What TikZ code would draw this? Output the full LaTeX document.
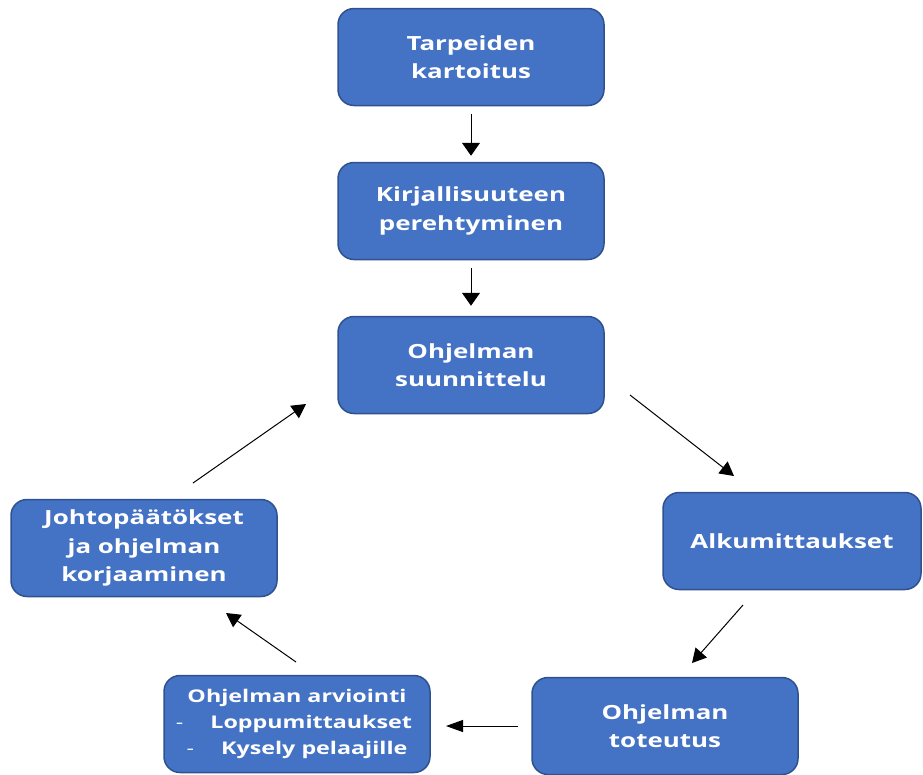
\documentclass[tikz,border=0pt]{standalone}
\usepackage{fontspec}
\setmainfont{Open Sans}[FakeStretch=1.33]
\usetikzlibrary{arrows.meta,calc}
\definecolor{boxfill}{HTML}{4472C4}
\definecolor{boxline}{HTML}{2F528F}
\tikzset{
  stepbox/.style={draw=boxline, line width=1.5pt, fill=boxfill, rounded corners=16pt,
    text=white, font=\bfseries\fontsize{19.5}{28.5}\selectfont, align=center,
    minimum width=266pt, minimum height=97pt, inner sep=0pt},
  flowarrow/.style={draw=black, line width=1pt, -{Triangle[length=#1]}},
  flowarrow/.default={14pt,width=15pt},
  vflow/.style={flowarrow={13pt,width=18pt}},
  hflow/.style={flowarrow={17pt,width=12pt}}
}
\begin{document}
\begin{tikzpicture}[x=1pt,y=-1pt]
\useasboundingbox (0,0) rectangle (923,774);
\node[stepbox] (b1) at (471,57) {Tarpeiden\\kartoitus};
\node[stepbox] (b2) at (471,211) {Kirjallisuuteen\\perehtyminen};
\node[stepbox] (b3) at (471,365) {Ohjelman\\suunnittelu};
\node[stepbox, minimum width=258pt] (b4) at (792,541) {Alkumittaukset};
\node[stepbox] (b5) at (665,726) {Ohjelman\\toteutus};
\node[stepbox, font=\bfseries\fontsize{17.5}{26}\selectfont] (b6) at (297,724)
  {Ohjelman arviointi\\\hspace*{-6pt}{\mdseries-}\hspace{27pt}Loppumittaukset\\{\mdseries-}\hspace{27pt}Kysely pelaajille};
\node[stepbox] (b7) at (144,548) {Johtopäätökset\\ja ohjelman\\korjaaminen};
\coordinate (c34a) at (630,395);
\coordinate (c34b) at (734,476);
\coordinate (c45a) at (743,605);
\coordinate (c45b) at (692,663);
\coordinate (c56a) at (518,726);
\coordinate (c56b) at (446,726);
\coordinate (c67a) at (296,662);
\coordinate (c67b) at (226,613);
\coordinate (c73a) at (193,483);
\coordinate (c73b) at (306,404);
\draw[vflow, shorten <=8pt, shorten >=6pt] (b1) -- (b2);
\draw[vflow, shorten <=8pt, shorten >=10pt] (b2) -- (b3);
\draw[flowarrow] (c34a) -- (c34b);
\draw[flowarrow] (c45a) -- (c45b);
\draw[hflow] (c56a) -- (c56b);
\draw[flowarrow] (c67a) -- (c67b);
\draw[flowarrow] (c73a) -- (c73b);
\end{tikzpicture}
\end{document}
